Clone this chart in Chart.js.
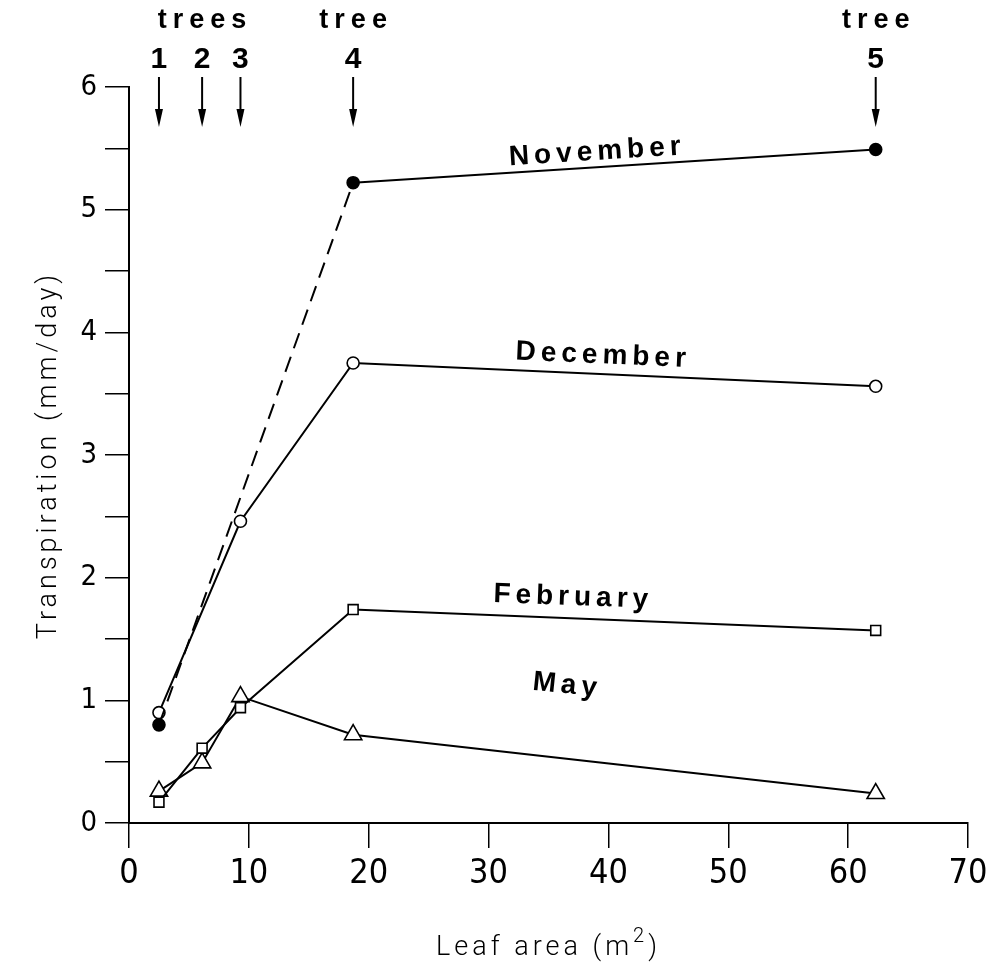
<!DOCTYPE html>
<html>
<head>
<meta charset="utf-8">
<script src="https://cdn.jsdelivr.net/npm/chart.js@4.4.0/dist/chart.umd.min.js"></script>
<style>
  body { margin: 0; background: #fff; }
  #wrap { width: 1002px; height: 964px; }
</style>
</head>
<body>
<div id="wrap"><canvas id="leafChart" width="1002" height="964"></canvas></div>
<script>
// leaf area of the five trees (m2)
const treeX = [2.5, 6.1, 9.3, 18.7, 62.3];
const treeNames = ['1', '2', '3', '4', '5'];

// transpiration (mm/day)
const novX = [2.5, 18.7, 62.3];
const novY = [0.80, 5.22, 5.49];
const decX = [2.5, 9.3, 18.7, 62.3];
const decY = [0.90, 2.46, 3.75, 3.56];
const febY = [0.17, 0.61, 0.94, 1.74, 1.57];
const mayY = [0.26, 0.49, 1.03, 0.72, 0.24];

const xTicks = [0, 10, 20, 30, 40, 50, 60, 70];
const yTicks = [0, 1, 2, 3, 4, 5, 6];

const pts = (xs, ys) => xs.map((x, i) => ({ x: x, y: ys[i] }));

// month labels written along the lines (data coords, angle in degrees)
const monthLabels = [
  { text: 'November', x: 38.9, y: 5.47, angle: -3.6 },
  { text: 'December', x: 39.4, y: 3.81, angle: 2.5 },
  { text: 'February', x: 36.9, y: 1.84, angle: 2.1 },
  { text: 'May', x: 36.4, y: 1.12, angle: 6.0 }
];

const tickFont = '"Liberation Sans Narrow", "DejaVu Sans Condensed", sans-serif';

const annotate = {
  id: 'annotate',
  afterDraw(chart) {
    const ctx = chart.ctx;
    const xs = chart.scales.x, ys = chart.scales.y;
    const top = chart.chartArea.top;
    ctx.save();
    ctx.fillStyle = '#000';
    ctx.strokeStyle = '#000';

    // month names
    ctx.font = 'bold 28px "Liberation Sans", Arial, sans-serif';
    ctx.letterSpacing = '5px';
    ctx.textAlign = 'center';
    ctx.textBaseline = 'middle';
    monthLabels.forEach(m => {
      ctx.save();
      ctx.translate(xs.getPixelForValue(m.x) + 2, ys.getPixelForValue(m.y));
      ctx.rotate(m.angle * Math.PI / 180);
      ctx.fillText(m.text, 0, 0);
      ctx.restore();
    });

    // tree markers above the plot
    ctx.textBaseline = 'alphabetic';
    ctx.font = 'bold 27px "Liberation Sans", Arial, sans-serif';
    ctx.letterSpacing = '6px';
    ctx.fillText('trees', xs.getPixelForValue(treeX[1]) + 3, top - 59);
    ctx.fillText('tree', xs.getPixelForValue(treeX[3]) + 3, top - 59);
    ctx.fillText('tree', xs.getPixelForValue(treeX[4]) + 3, top - 59);
    ctx.font = 'bold 30px "Liberation Sans", Arial, sans-serif';
    ctx.letterSpacing = '0px';
    treeX.forEach((tx, i) => {
      const px = xs.getPixelForValue(tx);
      ctx.fillText(treeNames[i], px, top - 19);
      ctx.lineWidth = 2;
      ctx.beginPath();
      ctx.moveTo(px, top - 10);
      ctx.lineTo(px, top + 26);
      ctx.stroke();
      ctx.beginPath();
      ctx.moveTo(px - 4, top + 22);
      ctx.lineTo(px + 4, top + 22);
      ctx.lineTo(px, top + 40);
      ctx.closePath();
      ctx.fill();
    });

    // axis titles
    ctx.font = '300 27px Roboto, sans-serif';
    ctx.letterSpacing = '4px';
    ctx.save();
    ctx.translate(56, (chart.chartArea.top + chart.chartArea.bottom) / 2);
    ctx.rotate(-Math.PI / 2);
    ctx.textAlign = 'center';
    ctx.fillText('Transpiration (mm/day)', 0, 0);
    ctx.restore();

    const base = 955;
    const cx = (xs.left + xs.right) / 2;
    const main = 'Leaf area (m';
    const w1 = ctx.measureText(main).width;
    ctx.font = '300 20px Roboto, sans-serif';
    const w2 = ctx.measureText('2').width;
    ctx.font = '300 27px Roboto, sans-serif';
    const w3 = ctx.measureText(')').width;
    let sx = cx - (w1 + w2 + w3) / 2;
    ctx.textAlign = 'left';
    ctx.fillText(main, sx, base);
    ctx.font = '300 20px Roboto, sans-serif';
    ctx.fillText('2', sx + w1, base - 13);
    ctx.font = '300 27px Roboto, sans-serif';
    ctx.fillText(')', sx + w1 + w2, base);
    ctx.restore();
  }
};

const lineStyle = {
  borderColor: '#000',
  borderWidth: 2,
  pointBorderColor: '#000',
  pointBorderWidth: 1.6,
  pointBackgroundColor: '#fff',
  tension: 0
};

new Chart(document.getElementById('leafChart'), {
  type: 'line',
  data: {
    datasets: [
      Object.assign({}, lineStyle, {
        label: 'November', data: pts(novX, novY),
        pointStyle: 'circle', pointRadius: 6, pointBackgroundColor: '#000',
        segment: { borderDash: c => c.p0DataIndex === 0 ? [16, 9] : undefined }
      }),
      Object.assign({}, lineStyle, {
        label: 'December', data: pts(decX, decY),
        pointStyle: 'circle', pointRadius: 6
      }),
      Object.assign({}, lineStyle, {
        label: 'February', data: pts(treeX, febY),
        pointStyle: 'rect', pointRadius: 7
      }),
      Object.assign({}, lineStyle, {
        label: 'May', data: pts(treeX, mayY),
        pointStyle: 'triangle', pointRadius: 10
      })
    ]
  },
  options: {
    responsive: false,
    animation: false,
    layout: { padding: { top: 87, right: 34, left: 0, bottom: 0 } },
    plugins: { legend: { display: false }, tooltip: { enabled: false } },
    scales: {
      x: {
        type: 'linear', min: 0, max: 70,
        afterFit: s => { s.height = 141; },
        afterBuildTicks: s => { s.ticks = xTicks.map(v => ({ value: v })); },
        border: { color: '#000', width: 2 },
        grid: { drawOnChartArea: false, color: '#000', lineWidth: 1.5, tickLength: 25 },
        ticks: { color: '#000', padding: 6, font: { family: tickFont, size: 34 } }
      },
      y: {
        type: 'linear', min: 0, max: 6,
        afterFit: s => { s.width = 129; },
        afterBuildTicks: s => {
          const t = [];
          yTicks.forEach(v => { t.push({ value: v }); if (v < 6) t.push({ value: v + 0.5 }); });
          s.ticks = t;
        },
        border: { color: '#000', width: 2 },
        grid: { drawOnChartArea: false, color: '#000', lineWidth: 1.5, tickLength: 24 },
        ticks: {
          color: '#000', padding: 8, font: { family: tickFont, size: 29 },
          callback: v => Number.isInteger(v) ? v : ''
        }
      }
    }
  },
  plugins: [annotate]
});
</script>
</body>
</html>
